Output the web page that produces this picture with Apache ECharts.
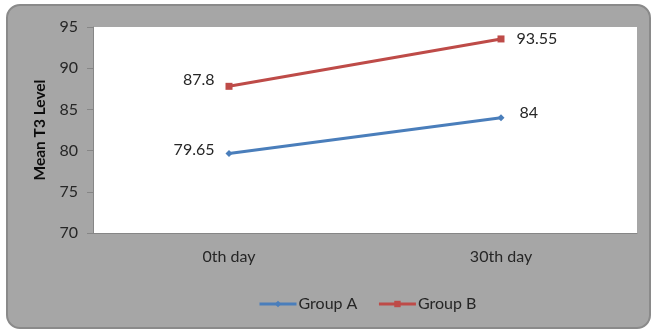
<!DOCTYPE html>
<html>
<head>
<meta charset="utf-8">
<script src="https://cdn.jsdelivr.net/npm/echarts@6/dist/echarts.min.js"></script>
<style>
  html, body { margin: 0; padding: 0; background: #ffffff; }
  #chart { width: 651px; height: 329px; }
</style>
</head>
<body>
<div id="chart"></div>
<script>
// Mean T3 level by day for the two groups
const categories = ['0th day', '30th day'];
const groupA = [79.65, 84];
const groupB = [87.8, 93.55];
const yTicks = { min: 70, max: 95, interval: 5 };

const FONT = 'Lato, "Liberation Sans", sans-serif';
const TEXT = '#262626';

const chart = echarts.init(document.getElementById('chart'), null, { renderer: 'canvas' });

// point labels: first point to the left, second to the right
function labelled(values, offsets) {
  return values.map((v, i) => ({
    value: v,
    label: {
      show: true,
      position: i === 0 ? 'left' : 'right',
      distance: offsets[i][0],
      offset: [0, offsets[i][1]],
      fontSize: 16,
      fontFamily: FONT,
      color: TEXT
    }
  }));
}

chart.setOption({
  animation: false,
  graphic: [{
    type: 'rect',
    z: -10,
    shape: { x: 7, y: 5, width: 643, height: 323, r: 13 },
    style: { fill: '#a6a6a6', stroke: '#8a8a8a', lineWidth: 2 },
    silent: true
  }],
  grid: {
    left: 93, top: 27, right: 14, bottom: 96,
    show: true, backgroundColor: '#ffffff', borderWidth: 0
  },
  legend: {
    bottom: 12,
    left: 253,
    itemWidth: 37,
    itemHeight: 8,
    itemGap: 20,
    lineStyle: { width: 3 },
    textStyle: { fontSize: 16, fontFamily: FONT, color: TEXT, padding: [0, 0, 0, -3] },
    data: ['Group A', 'Group B']
  },
  xAxis: {
    type: 'category',
    data: categories,
    boundaryGap: true,
    axisLine: { lineStyle: { color: '#868686', width: 1 } },
    axisTick: { show: false },
    axisLabel: { fontSize: 16, fontFamily: FONT, color: TEXT, margin: 16 }
  },
  yAxis: {
    type: 'value',
    min: yTicks.min, max: yTicks.max, interval: yTicks.interval,
    name: 'Mean T3 Level',
    nameLocation: 'middle',
    nameGap: 45,
    nameTextStyle: { fontSize: 15.5, fontWeight: 'bold', fontFamily: FONT, color: '#0d0d0d' },
    axisLine: { show: true, lineStyle: { color: '#868686', width: 1 } },
    axisTick: { show: true, length: 6, lineStyle: { color: '#868686' } },
    splitLine: { show: false },
    axisLabel: { fontSize: 16, fontFamily: FONT, color: TEXT, margin: 15 }
  },
  series: [
    {
      name: 'Group A',
      type: 'line',
      data: labelled(groupA, [[11, -4], [15, -5]]),
      symbol: 'diamond',
      symbolSize: 7,
      lineStyle: { color: '#4a7ebb', width: 3 },
      itemStyle: { color: '#4a7ebb' }
    },
    {
      name: 'Group B',
      type: 'line',
      data: labelled(groupB, [[11, -6], [12, 0]]),
      symbol: 'rect',
      symbolSize: 7,
      lineStyle: { color: '#be4b48', width: 3 },
      itemStyle: { color: '#be4b48' }
    }
  ]
});
</script>
</body>
</html>
